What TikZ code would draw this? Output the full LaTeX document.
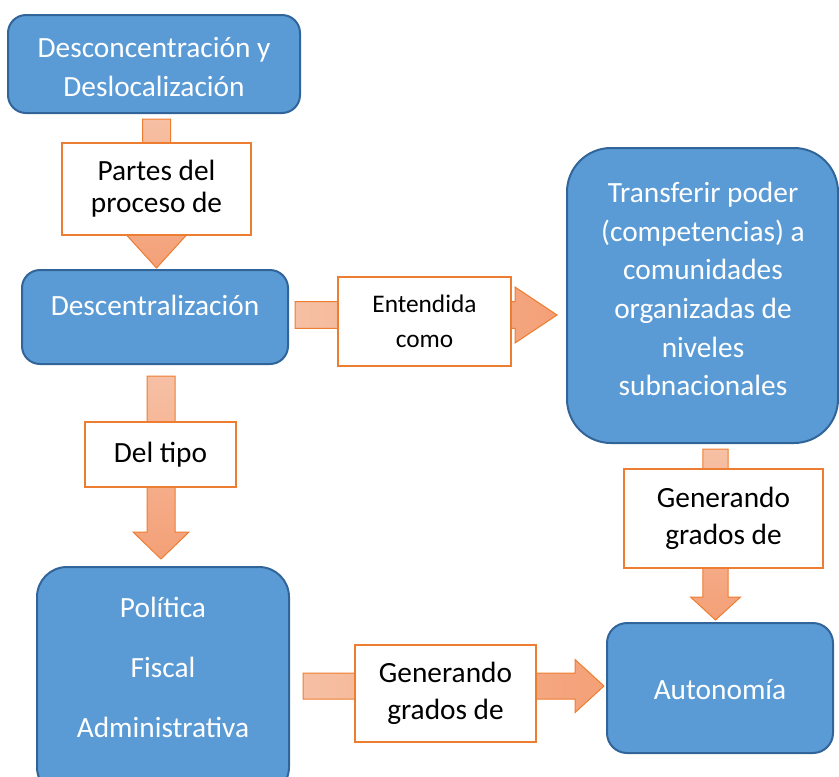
\documentclass[tikz,border=0pt]{standalone}
\usepackage{fontspec}
\setmainfont{Carlito}
\usetikzlibrary{calc}
\definecolor{bfill}{HTML}{5B9BD5}
\definecolor{bdraw}{HTML}{31659A}
\definecolor{obrd}{HTML}{ED7D31}
\definecolor{alight}{HTML}{F6C0A4}
\definecolor{adark}{HTML}{F4A077}
\newcommand\vblock[5]{\shade[arr, top color=alight, bottom color=adark] let \p1=(#1), \p2=(#2) in (\x1-#3,\y1) -- (\x1+#3,\y1) -- (\x1+#3,\y2+#5) -- (\x1+#4,\y2+#5) -- (\x1,\y2) -- (\x1-#4,\y2+#5) -- (\x1-#3,\y2+#5) -- cycle;}
\newcommand\hblock[5]{\shade[arr, left color=alight, right color=adark] let \p1=(#1), \p2=(#2) in (\x1,\y1-#3) -- (\x1,\y1+#3) -- (\x2-#5,\y1+#3) -- (\x2-#5,\y1+#4) -- (\x2,\y1) -- (\x2-#5,\y1-#4) -- (\x2-#5,\y1-#3) -- cycle;}
\begin{document}
\begin{tikzpicture}[x=0.75pt,y=-0.75pt,
  bluebox/.style={draw=bdraw, fill=bfill, line width=1.5pt, text=white, align=center, font=\fontsize{22}{29}\selectfont, inner sep=0pt},
  bluetext/.style={text=white, align=center, font=\fontsize{22}{29}\selectfont, inner sep=0pt},
  lbl/.style={draw=obrd, fill=white, line width=1.5pt, text=black, align=center, font=\fontsize{22}{27.5}\selectfont, inner sep=0pt},
  arr/.style={draw=obrd, line width=0.75pt, line join=miter}]
\useasboundingbox (0,0) rectangle (839,776);
\clip (0,0) rectangle (839,776);
% boxes
\node[bluebox, minimum width=219pt, minimum height=73.5pt, rounded corners=13.5pt] (d1) at (154,64) {};
\node[bluetext] (d1text) at (154,67) {Desconcentración y\\Deslocalización};
\node[bluebox, minimum width=199.5pt, minimum height=70.5pt, rounded corners=13.5pt] (d2) at (155,317) {};
\node[bluetext] (d2text) at (155,305) {Descentralización};
\node[bluebox, minimum width=203.25pt, minimum height=221.25pt, rounded corners=33pt] (tr) at (702.5,295.5) {};
\node[bluetext] (trtext) at (703,289) {Transferir poder\\(competencias) a\\comunidades\\organizadas de\\niveles\\subnacionales};
\node[bluebox, anchor=north, minimum width=189pt, minimum height=172.5pt, rounded corners=22.5pt] (po) at (163,566) {};
\node[bluetext] (potext) at (163,667) {Política\\[16pt]Fiscal\\[16pt]Administrativa};
\node[bluebox, minimum width=169.5pt, minimum height=97.5pt, rounded corners=15pt] (au) at (720,688) {};
\node[bluetext] (autext) at (720,690) {Autonomía};
% arrow end points
\coordinate (a1s) at (156.5,119); \coordinate (a1t) at (156.5,268);
\coordinate (a2s) at (295,315);   \coordinate (a2t) at (557,315);
\coordinate (a3s) at (161,376);   \coordinate (a3t) at (161,559);
\coordinate (a4s) at (715.5,449); \coordinate (a4t) at (715.5,620);
\coordinate (a5s) at (303,686);   \coordinate (a5t) at (604,686);
\vblock{a1s}{a1t}{10.5pt}{22.5pt}{24.75pt}
\hblock{a2s}{a2t}{10.1pt}{21pt}{31.5pt}
\vblock{a3s}{a3t}{10.5pt}{21pt}{20.25pt}
\vblock{a4s}{a4t}{9.4pt}{18.75pt}{17.25pt}
\hblock{a5s}{a5t}{9.75pt}{19.9pt}{21.75pt}
% labels
\node[lbl, minimum width=141.75pt, minimum height=69pt, font=\fontsize{22}{24}\selectfont] (l1) at (156.5,189) {Partes del\\proceso de};
\node[lbl, minimum width=129.75pt, minimum height=66.75pt, font=\fontsize{19}{26}\selectfont] (l2) at (424.5,321.5) {Entendida\\como};
\node[lbl, minimum width=113.25pt, minimum height=48.75pt] (l3) at (160.5,454.5) {Del tipo};
\node[lbl, minimum width=149.25pt, minimum height=74.25pt] (l4) at (723.5,518.5) {Generando\\grados de};
\node[lbl, minimum width=135.75pt, minimum height=72.75pt] (l5) at (445.5,693.5) {Generando\\grados de};
\end{tikzpicture}
\end{document}
